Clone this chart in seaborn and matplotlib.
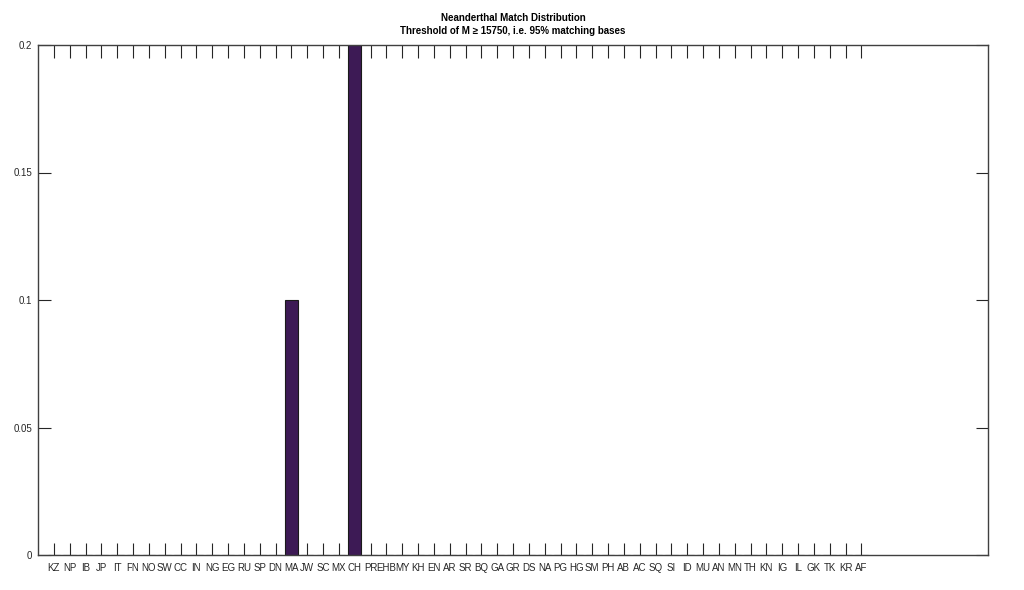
import matplotlib
matplotlib.use("Agg")
import matplotlib.pyplot as plt
import seaborn as sns
import pandas as pd

categories = ["KZ", "NP", "IB", "JP", "IT", "FN", "NO", "SW", "CC", "IN",
              "NG", "EG", "RU", "SP", "DN", "MA", "JW", "SC", "MX", "CH",
              "PR", "EHB", "MY", "KH", "EN", "AR", "SR", "BQ", "GA", "GR",
              "DS", "NA", "PG", "HG", "SM", "PH", "AB", "AC", "SQ", "SI",
              "ID", "MU", "AN", "MN", "TH", "KN", "IG", "IL", "GK", "TK",
              "KR", "AF"]
values = [0.0] * len(categories)
values[categories.index("MA")] = 0.1
values[categories.index("CH")] = 0.2

y_ticks = [0, 0.05, 0.1, 0.15, 0.2]
y_tick_labels = ["0", "0.05", "0.1", "0.15", "0.2"]
title = "Neanderthal Match Distribution\nThreshold of M \u2265 15750, i.e. 95% matching bases"

sns.set_theme(style="white")
plt.rcParams["font.family"] = ["Liberation Sans", "DejaVu Sans"]

df = pd.DataFrame({"pop": categories, "frac": values})

fig = plt.figure(figsize=(10.24, 5.90), dpi=100)
ax = fig.add_axes([38 / 1024, 35 / 590, 950 / 1024, 510 / 590])

sns.barplot(data=df, x="pop", y="frac", order=categories, width=0.8,
            color="#3d1a55", saturation=1, edgecolor="#1a1a1a", linewidth=0.8,
            ax=ax)

ax.set_xlim(-1, 59)
ax.set_ylim(0, 0.2)
ax.set_yticks(y_ticks)
ax.set_yticklabels(y_tick_labels)
ax.set_xlabel("")
ax.set_ylabel("")

ax.tick_params(axis="both", which="both", direction="in", length=9, width=0.8,
               color="#262626", labelsize=7, labelcolor="#262626",
               top=True, right=True, bottom=True, left=True, pad=4)
ax.tick_params(axis="x", pad=6)

for s in ax.spines.values():
    s.set_visible(True)
    s.set_color("#404040")
    s.set_linewidth(1.0)

ax.set_title(title, fontsize=7, fontweight="bold", color="#000000", pad=8,
             linespacing=1.35)

fig.savefig("out.png", dpi=100)
